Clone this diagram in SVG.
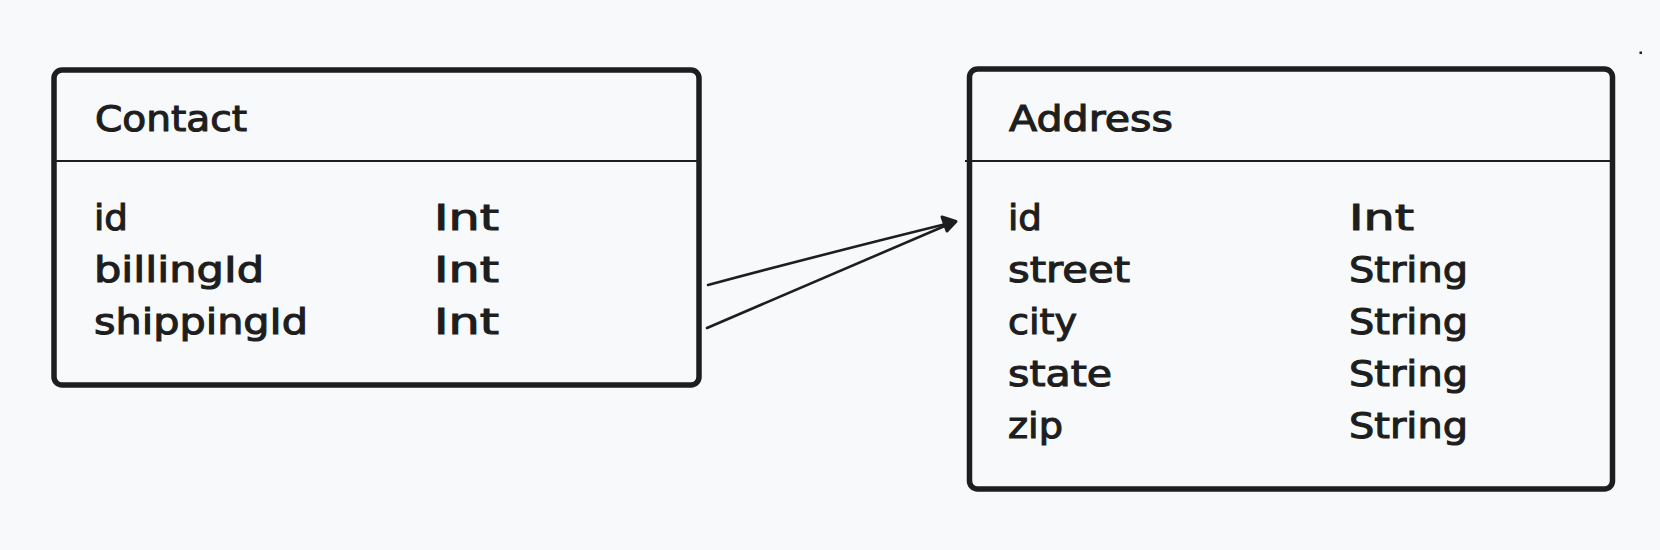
<svg xmlns="http://www.w3.org/2000/svg" width="1660" height="550" viewBox="0 0 1660 550">
  <defs>
    <style>
      .box { fill: none; stroke: #1e1e1e; stroke-width: 5.5; }
      .div { stroke: #1e1e1e; stroke-width: 2.2; fill: none; }
      .t { font-family: "DejaVu Sans", "Liberation Sans", sans-serif; font-size: 36px; fill: #1e1e1e; stroke: #1e1e1e; stroke-width: 1.1; }
      .conn { fill: none; stroke: #1e1e1e; stroke-width: 2.6; stroke-linecap: round; stroke-linejoin: round; }
      .head { fill: #1e1e1e; stroke: #1e1e1e; stroke-width: 3; stroke-linecap: round; stroke-linejoin: round; }
    </style>
  </defs>
  <rect x="0" y="0" width="1660" height="550" fill="#f8f9fb"/>
  <rect x="1639.5" y="51.5" width="2.5" height="2.5" fill="#1e1e1e"/>

  <g id="contact">
    <rect class="box" x="54" y="70" width="645" height="315" rx="8"/>
    <path class="div" d="M52 161 L698 161"/>
    <text class="t" x="95" y="131" textLength="152" lengthAdjust="spacingAndGlyphs">Contact</text>
    <text class="t" x="94" y="230" textLength="34" lengthAdjust="spacingAndGlyphs">id</text>
    <text class="t" x="94" y="282" textLength="170" lengthAdjust="spacingAndGlyphs">billingId</text>
    <text class="t" x="94" y="334" textLength="214" lengthAdjust="spacingAndGlyphs">shippingId</text>
    <text class="t" x="434" y="230" textLength="65" lengthAdjust="spacingAndGlyphs">Int</text>
    <text class="t" x="434" y="282" textLength="65" lengthAdjust="spacingAndGlyphs">Int</text>
    <text class="t" x="434" y="334" textLength="65" lengthAdjust="spacingAndGlyphs">Int</text>
  </g>

  <g id="address">
    <rect class="box" x="969.5" y="69" width="643" height="420" rx="8"/>
    <path class="div" d="M965 161 L1611 161"/>
    <text class="t" x="1009" y="131" textLength="164" lengthAdjust="spacingAndGlyphs">Address</text>
    <text class="t" x="1008" y="230" textLength="34" lengthAdjust="spacingAndGlyphs">id</text>
    <text class="t" x="1008" y="282" textLength="122" lengthAdjust="spacingAndGlyphs">street</text>
    <text class="t" x="1008" y="334" textLength="69" lengthAdjust="spacingAndGlyphs">city</text>
    <text class="t" x="1008" y="386" textLength="104" lengthAdjust="spacingAndGlyphs">state</text>
    <text class="t" x="1008" y="438" textLength="55" lengthAdjust="spacingAndGlyphs">zip</text>
    <text class="t" x="1349" y="230" textLength="65" lengthAdjust="spacingAndGlyphs">Int</text>
    <text class="t" x="1349" y="282" textLength="119" lengthAdjust="spacingAndGlyphs">String</text>
    <text class="t" x="1349" y="334" textLength="119" lengthAdjust="spacingAndGlyphs">String</text>
    <text class="t" x="1349" y="386" textLength="119" lengthAdjust="spacingAndGlyphs">String</text>
    <text class="t" x="1349" y="438" textLength="119" lengthAdjust="spacingAndGlyphs">String</text>
  </g>

  <g id="connectors">
    <path class="conn" d="M708 285 Q820 255 954 222"/>
    <path class="conn" d="M707 328 L954 222"/>
    <path class="head" d="M942 217 L956 221.5 L947 231 Z"/>
  </g>
</svg>
